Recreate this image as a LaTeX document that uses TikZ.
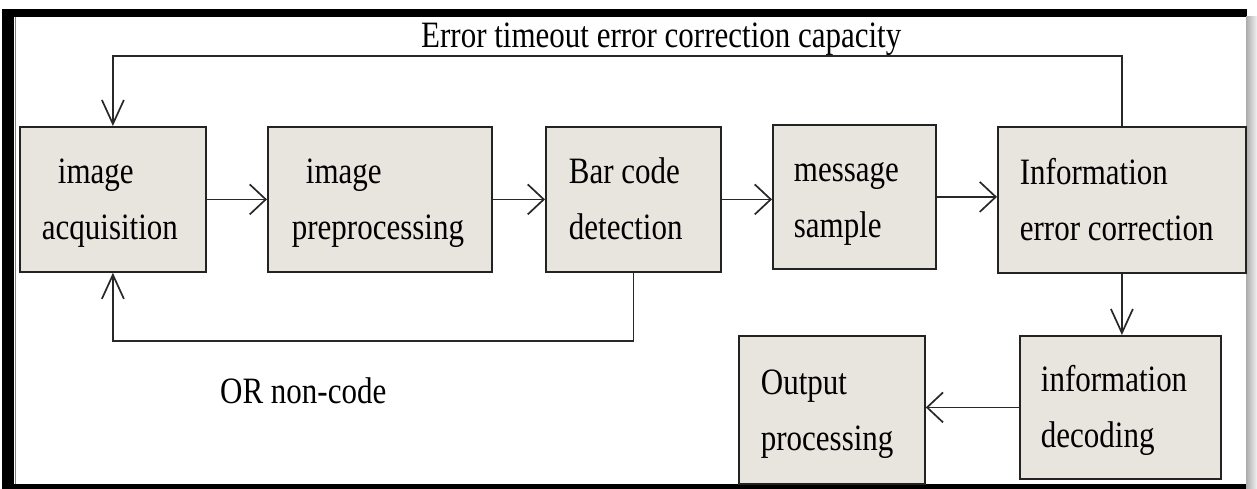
\documentclass[tikz,border=0pt]{standalone}
\usepackage{fontspec}
\newfontfamily\dfont[FakeStretch=0.833]{Liberation Serif}
\usetikzlibrary{arrows.meta}
\definecolor{boxfill}{RGB}{232,228,222}
\definecolor{boxline}{RGB}{35,35,35}
\definecolor{lineclr}{RGB}{40,40,40}
\newcommand\boxtext[2]{\rule{0pt}{40pt}#1\\#2\rule[-15pt]{0pt}{15pt}}
\begin{document}
\begin{tikzpicture}[x=1pt,y=-1pt,
  box/.style={draw=boxline, line width=1.8pt, fill=boxfill, anchor=north west,
    align=flush left, inner ysep=0pt, font=\dfont\fontsize{37.2}{56}\selectfont},
  conn/.style={draw=lineclr, line width=1.7pt},
  harr/.style={conn, -{Straight Barb[length=16pt,width=30pt,line width=1.7pt]}},
  varr/.style={conn, -{Straight Barb[length=24pt,width=22pt,line width=1.7pt]}},
  lbl/.style={anchor=base west, inner sep=0pt, font=\dfont\fontsize{37.2}{44}\selectfont}]
\useasboundingbox (0,0) rectangle (1257,489);
% frame
\fill[black] (2,9) rectangle (1247,17);
\fill[black] (2,9) rectangle (14,489);
\fill[black] (2,484) rectangle (1247,489);
\draw[gray, line width=1pt] (15,17) -- (15,484);
\shade[left color=gray!65, right color=gray!10] (1246,17) rectangle (1257,489);
% boxes
\node[box, minimum width=186pt, minimum height=145pt, text width=142pt, inner xsep=22pt] (b1) at (19,126) {\boxtext{\hspace*{16pt}image}{acquisition}};
\node[box, minimum width=224pt, minimum height=145pt, text width=176pt, inner xsep=24pt] (b2) at (267,126) {\boxtext{\hspace*{14pt}image}{preprocessing}};
\node[box, minimum width=175pt, minimum height=145pt, text width=129pt, inner xsep=23pt] (b3) at (545,126) {\boxtext{Bar code}{detection}};
\node[box, minimum width=163pt, minimum height=144pt, text width=121pt, inner xsep=21pt] (b4) at (772,124) {\boxtext{message}{sample}};
\node[box, minimum width=248pt, minimum height=146pt, text width=204pt, inner xsep=22pt] (b5) at (997,126) {\boxtext{Information}{error correction}};
\node[box, minimum width=201pt, minimum height=143pt, text width=159pt, inner xsep=21pt] (b6) at (1019,335) {\boxtext{information}{decoding}};
\node[box, minimum width=186pt, minimum height=148pt, text width=142pt, inner xsep=22pt] (b7) at (738,335) {\boxtext{Output}{processing}};
% labels
\node[lbl] (title) at (421,48) {Error timeout error correction capacity};
\node[lbl] (orlbl) at (220,403) {OR non-code};
% connectors
\draw[harr] (b1.east) -- (b2.west);
\draw[harr] (b2.east) -- (b3.west);
\draw[harr] (b3.east) -- (b3.east -| b4.west);
\draw[harr] (b4.east) -- (b4.east -| b5.west);
\draw[varr] (b5.north) -- ++(0,-70) -| (b1.north);
\draw[varr] (b3.south) -- ++(0,68) -| (b1.south);
\draw[varr] (b5.south) -- (b5.south |- b6.north);
\draw[harr] (b6.west) -- (b6.west -| b7.east);
\end{tikzpicture}
\end{document}
